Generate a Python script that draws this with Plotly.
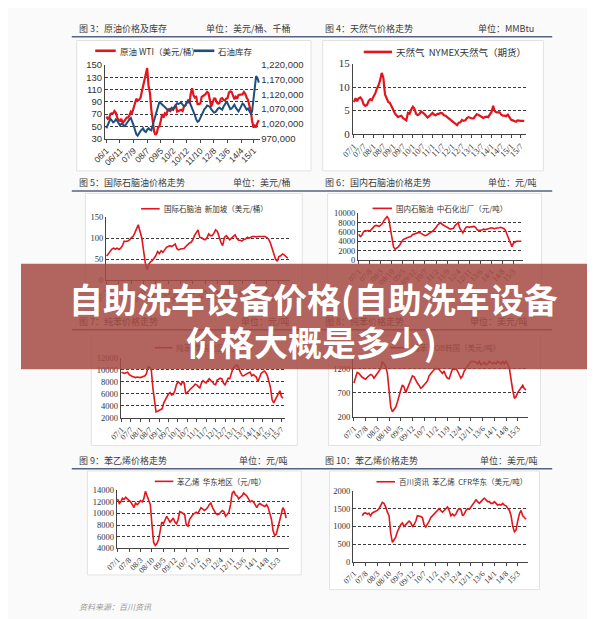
import pandas as pd
import plotly.graph_objects as go

W, H = 595, 619

# ---------------- data (monthly readings from the picture) ----------------
wti_start = "2006-01"
wti_values = [66, 62, 63, 70, 71, 71, 75, 72, 64, 60, 59, 62,
              55, 59, 61, 64, 64, 68, 74, 72, 80, 86, 95, 92,
              93, 96, 106, 113, 126, 136, 145, 116, 104, 77, 58, 42,
              36, 39, 48, 50, 59, 70, 64, 71, 69, 76, 78, 75,
              78, 77, 81, 85, 74, 75, 76, 77, 75, 82, 84, 89,
              90, 88, 103, 112, 101, 97, 98, 86, 86, 87, 98, 99,
              101, 103, 106, 104, 95, 82, 88, 95, 95, 89, 87, 88,
              95, 96, 93, 92, 95, 96, 105, 107, 106, 101, 94, 98,
              95, 101, 101, 102, 102, 106, 103, 97, 93, 84, 76, 59,
              48, 51, 48, 56, 60]

inventory_start = "2006-01"
inventory_values = [1005000, 1015000, 1030000, 1037000, 1032000, 1025000, 1028000, 1035000, 1030000, 1020000, 1015000, 1020000,
                    1018000, 1012000, 1015000, 1022000, 1030000, 1035000, 1040000, 1030000, 1015000, 1000000, 985000, 980000,
                    990000, 995000, 1000000, 1005000, 995000, 992000, 1000000, 1005000, 1000000, 998000, 1015000, 1030000,
                    1050000, 1065000, 1080000, 1095000, 1090000, 1085000, 1080000, 1075000, 1070000, 1068000, 1065000, 1072000,
                    1075000, 1070000, 1078000, 1085000, 1090000, 1088000, 1090000, 1092000, 1085000, 1080000, 1082000, 1090000,
                    1100000, 1095000, 1085000, 1070000, 1065000, 1050000, 1035000, 1027000, 1030000, 1040000, 1055000, 1065000,
                    1070000, 1075000, 1082000, 1080000, 1078000, 1070000, 1062000, 1058000, 1060000, 1068000, 1072000, 1075000,
                    1072000, 1068000, 1078000, 1085000, 1093000, 1090000, 1078000, 1070000, 1072000, 1078000, 1085000, 1075000,
                    1068000, 1062000, 1070000, 1080000, 1089000, 1085000, 1075000, 1068000, 1072000, 1065000, 1055000, 1062000,
                    1100000, 1150000, 1182000, 1175000, 1160000]

gas_start = "2007-01"
gas_values = [6.8, 7.6, 7.0, 7.6, 7.8, 7.3, 6.3, 6.0, 6.2, 7.0, 7.4, 7.2,
              8.0, 8.6, 9.6, 10.3, 11.4, 13.0, 12.0, 8.4, 7.6, 6.8, 6.6, 5.8,
              5.1, 4.4, 4.0, 3.6, 3.8, 3.9, 3.4, 3.2, 2.9, 4.5, 4.3, 5.2,
              5.8, 5.3, 4.3, 4.0, 4.2, 4.8, 4.6, 4.3, 3.9, 3.5, 3.8, 4.2,
              4.5, 4.1, 4.0, 4.3, 4.3, 4.5, 4.4, 4.0, 3.9, 3.6, 3.3, 3.2,
              2.7, 2.5, 2.2, 1.9, 2.4, 2.5, 3.0, 2.8, 2.9, 3.4, 3.6, 3.4,
              3.3, 3.3, 3.8, 4.2, 4.1, 3.8, 3.6, 3.4, 3.6, 3.7, 3.6, 4.2,
              4.7, 6.0, 4.9, 4.6, 4.6, 4.6, 4.1, 3.9, 3.9, 3.8, 4.1, 3.5,
              3.0, 2.9, 2.8, 2.6, 2.9, 2.8, 2.8, 2.8, 2.8]

naphtha_sg_start = "2007-01"
naphtha_sg_values = [57, 62, 68, 74, 76, 74, 76, 73, 76, 82, 93, 92,
                     93, 96, 101, 104, 112, 122, 132, 116, 100, 70, 40, 25,
                     38, 44, 46, 52, 58, 68, 63, 70, 66, 72, 78, 80,
                     82, 80, 83, 86, 75, 72, 74, 75, 75, 80, 85, 88,
                     90, 96, 106, 112, 120, 102, 101, 98, 96, 100, 110, 106,
                     106, 112, 120, 116, 100, 90, 82, 102, 106, 102, 96, 100,
                     104, 108, 100, 95, 95, 93, 97, 98, 102, 100, 102, 104,
                     104, 103, 104, 104, 103, 103, 104, 102, 98, 90, 78, 62,
                     50, 45, 56, 58, 62, 60, 55, 52]

naphtha_cn_start = "2007-01"
naphtha_cn_values = [5500, 5000, 5300, 6000, 6300, 6200, 6300, 6200, 6500, 7000, 7300, 7400,
                     7300, 7200, 7500, 7800, 8500, 9000, 9300, 8800, 6500, 4500, 2800, 2300,
                     2500, 2800, 3200, 3800, 4300, 4500, 4700, 4800, 4900, 5000, 5400, 5500,
                     5600, 5800, 5900, 5800, 5600, 5400, 5200, 5300, 5600, 5800, 6000, 6200,
                     6500, 7000, 7500, 7800, 8000, 7600, 7300, 7200, 7000, 6800, 6600, 6700,
                     6800, 7400, 7800, 8000, 6800, 6200, 5800, 6500, 7000, 7100, 7000, 7100,
                     7100, 7200, 7000, 6500, 6300, 6300, 6400, 6600, 6500, 6600, 6700, 6800,
                     6900, 6800, 6700, 6800, 6800, 6900, 7000, 6900, 6700, 6300, 5500, 4500,
                     3800, 2800, 3600, 3900, 4000, 4000, 4000, 4000]

benzene_cn_start = "2007-01"
benzene_cn_values = [9600, 9500, 9400, 9500, 9600, 9200, 9000, 8900, 8800, 8700, 8800, 8700,
                     8700, 8800, 8900, 9000, 9400, 10500, 10400, 10000, 7000, 4500, 3000, 3100,
                     3200, 3300, 3500, 4500, 5000, 5500, 6000, 6200, 5800, 5900, 6500, 7500,
                     8000, 7800, 7500, 8000, 7800, 6000, 6200, 6500, 6800, 7000, 7300, 7600,
                     7500, 7200, 7000, 7800, 8200, 8000, 7800, 8200, 8500, 8200, 8000, 7600,
                     7500, 8300, 8500, 8600, 8500, 7800, 7500, 8200, 8600, 8500, 9500, 10200,
                     10500, 10800, 10700, 10000, 9500, 9000, 9000, 9200, 9400, 9500, 9600, 9000,
                     9200, 9000, 8800, 8000, 8800, 9400, 9600, 9800, 9500, 9000, 8000, 7000,
                     5000, 4500, 5000, 5500, 6000, 6500, 5500, 5300]

benzene_kr_start = "2007-01"
benzene_kr_values = [900, 1000, 1120, 1100, 1050, 1020, 1000, 980, 1020, 1050, 1080, 1060,
                     1000, 1050, 1100, 1150, 1200, 1350, 1300, 1250, 1100, 800, 400, 300,
                     350, 400, 500, 650, 750, 860, 820, 700, 800, 900, 1000, 1050,
                     1030, 950, 900, 850, 790, 820, 850, 900, 950, 1050, 1100, 1150,
                     1180, 1200, 1200, 1180, 1150, 1100, 1150, 1050, 1000, 990, 1100, 1200,
                     1180, 1200, 1150, 1050, 1000, 1050, 1150, 1200, 1250, 1300, 1350, 1350,
                     1350, 1330, 1300, 1350, 1280, 1300, 1330, 1280, 1300, 1350, 1320, 1300,
                     1330, 1300, 1350, 1320, 1300, 1350, 1300, 1350, 1300, 1200, 950, 750,
                     580, 620, 700, 750, 800, 850, 780, 760]

styrene_cn_start = "2007-01"
styrene_cn_values = [12500, 11700, 12000, 12600, 12400, 12800, 12500, 12300, 12000, 11500, 11000, 11800,
                     11500, 11800, 12200, 12000, 12500, 13800, 13000, 12000, 11500, 8000, 5000, 4500,
                     4800, 5500, 7000, 8500, 8200, 9000, 9500, 9000, 8500, 8800, 9200, 8500,
                     8200, 9000, 10300, 10200, 10000, 9800, 8000, 7800, 9000, 9500, 9800, 10000,
                     10200, 10000, 10500, 11000, 10800, 10500, 10700, 11000, 11500, 11800, 11000, 10500,
                     10000, 9800, 9900, 10200, 10500, 10300, 9500, 9800, 10200, 11500, 13500, 13800,
                     13200, 13000, 12500, 12800, 13000, 13500, 13300, 13000, 12500, 12000, 12200, 12000,
                     11500, 11000, 11500, 11700, 11500, 11400, 11200, 11500, 11000, 10000, 9000, 7000,
                     6200, 6500, 7500, 8500, 9500, 11000, 10500, 9200]

styrene_cfr_start = "2007-06"
styrene_cfr_values = [1300, 1370, 1380, 1350, 1370, 1300, 1380,
                      1400, 1430, 1450, 1500, 1600, 1680, 1650, 1550, 1400, 1300, 800, 550,
                      620, 700, 850, 950, 1050, 1100, 1000, 1050, 1100, 1150, 1100, 1000,
                      1050, 1150, 1300, 1300, 1280, 1250, 1050, 980, 1050, 1150, 1250, 1300,
                      1350, 1400, 1450, 1500, 1450, 1400, 1450, 1500, 1550, 1450, 1300, 1350,
                      1300, 1350, 1450, 1500, 1480, 1300, 1350, 1450, 1500, 1480, 1550, 1600,
                      1700, 1750, 1700, 1650, 1700, 1750, 1800, 1750, 1700, 1700, 1650, 1650,
                      1700, 1650, 1600, 1620, 1600, 1650, 1600, 1580, 1500, 1450, 1300, 1000,
                      850, 900, 1150, 1350, 1450, 1300, 1250, 1200]

# tick positions / labels
ticks_fig3 = ["2006-01", "2006-11", "2007-09", "2008-07", "2009-05", "2010-02",
              "2010-12", "2011-10", "2012-08", "2013-06", "2014-04", "2015-01"]
labels_fig3 = ["06/1", "06/11", "07/9", "08/7", "09/5", "10/2",
               "10/12", "11/10", "12/8", "13/6", "14/4", "15/1"]
ticks_6m = ["2007-01", "2007-07", "2008-01", "2008-07", "2009-01", "2009-07",
            "2010-01", "2010-07", "2011-01", "2011-07", "2012-01", "2012-07",
            "2013-01", "2013-07", "2014-01", "2014-07", "2015-01", "2015-07"]
labels_6m = ["07/1", "07/7", "08/1", "08/7", "09/1", "09/7", "10/1", "10/7", "11/1",
             "11/7", "12/1", "12/7", "13/1", "13/7", "14/1", "14/7", "15/1", "15/7"]
ticks_7m = ["2007-01", "2007-08", "2008-03", "2008-10", "2009-05", "2009-12",
            "2010-07", "2011-02", "2011-09", "2012-04", "2012-11", "2013-06",
            "2014-01", "2014-08", "2015-03"]
labels_7m = ["07/1", "07/8", "08/3", "08/10", "09/5", "09/12", "10/7", "11/2",
             "11/9", "12/4", "12/11", "13/6", "14/1", "14/8", "15/3"]

# ---------------- helpers ----------------
RED = "#e3141b"
BLUE = "#1d4f7c"
CJK = "Noto Sans CJK SC"
SERIF = "Liberation Serif"
SANS = "Liberation Sans"

# banner blending for texts lying under the translucent banner
BANNER = (165, 75, 68)
BANNER_A = 0.86


def under_banner(rgb):
    r, g, b = [round(c * BANNER_A + v * (1 - BANNER_A)) for c, v in zip(BANNER, rgb)]
    return f"rgb({r},{g},{b})"


def months(start, n):
    return pd.date_range(start, periods=n, freq="MS")


def fx(px):
    return px / W


def fy(py):
    return 1 - py / H


fig = go.Figure()
shapes = []
annotations = []

# panel definitions
panels = [
    (1, 86, 245, 52, 127, [30, 150], 30, 20, ["2005-12-01", "2015-06-01"], ticks_fig3, labels_fig3, SANS, 9.5, 8.5),
    (2, 340, 517, 50.5, 122.4, [0, 15], 0, 5, ["2006-12-15", "2015-10-01"], ticks_6m, labels_6m, SERIF, 11, 8.5),
    (3, 87, 275, 207.3, 271.2, [0, 150], 0, 50, ["2006-12-20", "2015-09-01"], ticks_7m, labels_7m, SERIF, 8.5, 8),
    (4, 345, 514, 203.3, 250.7, [0, 10000], 0, 2000, ["2006-12-15", "2015-09-01"], ticks_7m, labels_7m, SERIF, 8.5, 8),
    (5, 102, 270, 350.6, 411.8, [2000, 12000], 2000, 2000, ["2006-12-15", "2015-09-01"], ticks_6m, labels_6m, SERIF, 8.5, 8),
    (6, 340, 519, 349.4, 410.6, [200, 1450], 200, 500, ["2006-12-15", "2015-09-01"], ticks_7m, labels_7m, SERIF, 8.5, 8),
    (7, 98, 274, 485.6, 544.8, [4000, 14000], 4000, 2000, ["2006-12-15", "2015-09-15"], ticks_7m, labels_7m, SERIF, 8.5, 8),
    (8, 340, 519, 486.4, 558.6, [0, 2000], 0, 500, ["2006-12-15", "2015-09-01"], ticks_7m, labels_7m, SERIF, 8.5, 8),
]

# white chart boxes
boxes = [(57, 297, 27, 160), (309, 535, 27, 160),
         (66, 288, 183, 303), (314, 533, 183, 303),
         (72, 283, 328, 440), (315, 532, 328, 440),
         (68, 287, 466, 572), (316, 531, 466, 587)]
for x0, x1, y0, y1 in boxes:
    shapes.append(dict(type="rect", xref="paper", yref="paper", x0=fx(x0), x1=fx(x1),
                       y0=fy(y1), y1=fy(y0), fillcolor="white",
                       line=dict(color="#e2e2e2", width=1), layer="below"))

layout_axes = {}
for (i, x0, x1, yt, yb, yr, t0, dt, xr, tv, tt, fam, ysize, xsize) in panels:
    sx = "" if i == 1 else str(i)
    layout_axes["xaxis" + sx] = dict(
        domain=[fx(x0), fx(x1)], anchor="y" + sx, type="date", range=xr,
        tickmode="array", tickvals=tv, ticktext=tt, tickangle=-45,
        tickfont=dict(family=fam, size=xsize, color="#333"),
        showgrid=False, showline=True, linecolor="#444", linewidth=1,
        ticks="outside", ticklen=3, tickcolor="#444", zeroline=False)
    layout_axes["yaxis" + sx] = dict(
        domain=[fy(yb), fy(yt)], anchor="x" + sx, range=yr, tick0=t0, dtick=dt,
        tickformat="d",
        tickfont=dict(family=fam, size=ysize, color="#333"),
        showgrid=True, gridcolor="#3a3a3a", griddash="3px,2px", gridwidth=1,
        showline=True, linecolor="#444", linewidth=1, ticks="", zeroline=False)

# secondary axis for inventory (figure 3)
layout_axes["yaxis9"] = dict(
    overlaying="y", side="right", anchor="x", range=[970000, 1220000],
    tick0=970000, dtick=50000, tickformat=",d", showgrid=False,
    tickfont=dict(family=SANS, size=9.5, color="#333"), showline=False,
    ticks="", zeroline=False)

# ---------------- traces ----------------
series = [
    (wti_start, wti_values, "x", "y", RED, 2.2),
    (inventory_start, inventory_values, "x", "y9", BLUE, 2.0),
    (gas_start, gas_values, "x2", "y2", RED, 2.2),
    (naphtha_sg_start, naphtha_sg_values, "x3", "y3", RED, 1.6),
    (naphtha_cn_start, naphtha_cn_values, "x4", "y4", RED, 1.6),
    (benzene_cn_start, benzene_cn_values, "x5", "y5", RED, 1.6),
    (benzene_kr_start, benzene_kr_values, "x6", "y6", RED, 1.6),
    (styrene_cn_start, styrene_cn_values, "x7", "y7", RED, 1.6),
    (styrene_cfr_start, styrene_cfr_values, "x8", "y8", RED, 1.6),
]
for start, vals, xa, ya, col, w in series:
    fig.add_trace(go.Scatter(x=months(start, len(vals)), y=vals, mode="lines",
                             line=dict(color=col, width=w), xaxis=xa, yaxis=ya,
                             showlegend=False, hoverinfo="skip"))

# ---------------- headers ----------------
headers = [
    (15, "图 3：原油价格及库存", "单位：美元/桶、千桶", 57, 279, False),
    (15, "图 4：天然气价格走势", "单位：MMBtu", 309, 527, False),
    (172, "图 5：国际石脑油价格走势", "单位：美元/桶", 57, 279, False),
    (172, "图 6：国内石脑油价格走势", "单位：元/吨", 309, 530, False),
    (314, "图 7：纯苯价格走势", "单位：元/吨", 57, 278, True),
    (314, "图 8：纯苯价格走势", "单位：美元/吨", 309, 521, True),
    (455.5, "图 9：苯乙烯价格走势", "单位：元/吨", 57, 275, False),
    (455.5, "图 10：苯乙烯价格走势", "单位：美元/吨", 309, 531, False),
]
for y, left, right, xl, xr_, covered in headers:
    col = under_banner((60, 60, 60)) if covered else "#3c3c3c"
    annotations.append(dict(text=left, x=fx(xl), y=fy(y), xref="paper", yref="paper",
                            xanchor="left", yanchor="middle", showarrow=False,
                            font=dict(family=CJK, size=9, color=col)))
    annotations.append(dict(text=right, x=fx(xr_), y=fy(y), xref="paper", yref="paper",
                            xanchor="right", yanchor="middle", showarrow=False,
                            font=dict(family=CJK, size=9, color=col)))

for y in [23.3, 180.5, 322, 463.8]:
    shapes.append(dict(type="line", xref="paper", yref="paper", x0=fx(52), x1=fx(544),
                       y0=fy(y), y1=fy(y), line=dict(color="#56627e", width=1.5), layer="below"))

# ---------------- legends ----------------
legends = [
    (76, 97, 37.5, "原油 WTI（美元/桶）", RED, 8.5, False),
    (177, 198, 37.5, "石油库存", BLUE, 8.5, False),
    (351, 380, 38.7, "天然气  NYMEX天然气（期货）", RED, 9.5, False),
    (123, 142, 198.6, "国际石脑油  新加坡（美元/桶）", RED, 7.5, False),
    (360, 380, 198.2, "国内石脑油  中石化出厂（元/吨）", RED, 7.5, False),
    (137, 155, 340.3, "纯苯  华东地区（元/吨）", RED, 7.5, True),
    (378, 396, 340.3, "纯苯  FOB韩国（美元/吨）", RED, 7.5, True),
    (137, 156, 476.6, "苯乙烯  华东地区（元/吨）", RED, 7.5, False),
    (364, 383, 477, "百川资讯  苯乙烯  CFR华东（美元/吨）", RED, 7.5, False),
]
for x0, x1, y, txt, col, size, covered in legends:
    lw = 2.6 if size > 8 else 1.6
    shapes.append(dict(type="line", xref="paper", yref="paper", x0=fx(x0), x1=fx(x1),
                       y0=fy(y), y1=fy(y), line=dict(color=col, width=lw), layer="below"))
    tcol = under_banner((70, 70, 70)) if covered else "#333"
    annotations.append(dict(text=txt, x=fx(x1 + 2), y=fy(y), xref="paper", yref="paper",
                            xanchor="left", yanchor="middle", showarrow=False,
                            font=dict(family=CJK, size=size, color=tcol)))

# footer
annotations.append(dict(text="<i>资料来源：百川资讯</i>", x=fx(57), y=fy(604), xref="paper",
                        yref="paper", xanchor="left", yanchor="middle", showarrow=False,
                        font=dict(family=CJK, size=8, color="#9a9a9a")))

# ---------------- banner ----------------
shapes.append(dict(type="rect", xref="paper", yref="paper", x0=0, x1=1,
                   y0=fy(362.4), y1=fy(254.6),
                   fillcolor=f"rgba({BANNER[0]},{BANNER[1]},{BANNER[2]},{BANNER_A})",
                   line=dict(width=0), layer="above"))
annotations.append(dict(text="<b>自助洗车设备价格(自助洗车设备</b>", x=fx(300), y=fy(290),
                        xref="paper", yref="paper", xanchor="center", yanchor="middle",
                        showarrow=False, font=dict(family=CJK, size=34, color="white")))
annotations.append(dict(text="<b>价格大概是多少)</b>", x=fx(298), y=fy(333.5),
                        xref="paper", yref="paper", xanchor="center", yanchor="middle",
                        showarrow=False, font=dict(family=CJK, size=34, color="white")))

fig.update_layout(
    width=W, height=H, margin=dict(l=0, r=0, t=0, b=0),
    paper_bgcolor="#fafafa", plot_bgcolor="white",
    shapes=shapes, annotations=annotations, showlegend=False,
    **layout_axes)

fig.write_html("out.html")
